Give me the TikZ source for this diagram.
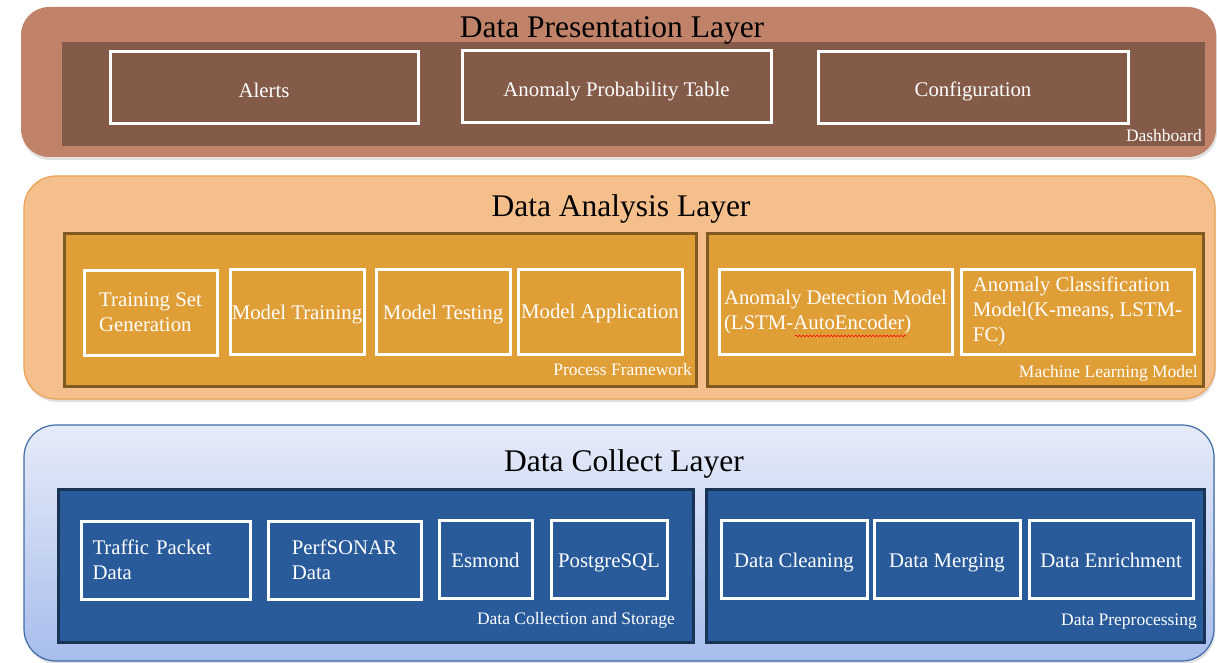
\documentclass[tikz,border=0pt]{standalone}
\usepackage{fontspec}
\setmainfont{Liberation Serif}
\usetikzlibrary{shadows,decorations.pathmorphing}
\definecolor{presOuter}{HTML}{C0836A}
\definecolor{presInner}{HTML}{845A48}
\definecolor{anaOuter}{HTML}{F5BF8C}
\definecolor{anaBorder}{HTML}{EBA257}
\definecolor{anaInner}{HTML}{E09E36}
\definecolor{anaInnerBorder}{HTML}{7F5A22}
\definecolor{colTop}{HTML}{E6EBF8}
\definecolor{colBot}{HTML}{A8BDEC}
\definecolor{colBorder}{HTML}{3F6BA8}
\definecolor{colInner}{HTML}{295B9B}
\definecolor{colInnerBorder}{HTML}{1A3456}
\begin{document}
\begin{tikzpicture}[x=1pt,y=-1pt,
  every node/.style={inner sep=0pt},
  layertitle/.style={font=\fontsize{31.5}{38}\selectfont, text=black, anchor=base},
  itembox/.style={draw=white, line width=3pt, text=white, font=\fontsize{20.8}{25}\selectfont, align=left},
  oneline/.style={text height=#1, text depth=0pt},
  tag/.style={font=\fontsize{17.5}{21}\selectfont, text=white, anchor=base east},
  layershadow/.style={drop shadow={opacity=0.2, shadow xshift=1pt, shadow yshift=-3pt, fill=black!60}}
]
\fill[white] (0,0) rectangle (1217,663);
\useasboundingbox (0,0) rectangle (1217,663);

% ---------- Data Presentation Layer ----------
\fill[presOuter, rounded corners=28pt, layershadow] (21,7) rectangle (1216,157);
\fill[presInner] (62,42) rectangle (1205,146);
\node[layertitle] (tPres) at (612,38) {Data Presentation Layer};
\node[itembox, oneline=20pt, minimum width=308, minimum height=72] (alerts) at (264,88) {Alerts};
\node[itembox, oneline=20pt, minimum width=309, minimum height=72] (apt) at (616.5,86.5) {Anomaly Probability Table};
\node[itembox, oneline=18pt, minimum width=310, minimum height=72] (config) at (973,87.5) {Configuration};
\node[tag] (dash) at (1202,142) {Dashboard};

% ---------- Data Analysis Layer ----------
\filldraw[fill=anaOuter, draw=anaBorder, line width=1.2pt, rounded corners=32pt, layershadow] (24,176) rectangle (1215,399);
\node[layertitle] (tAna) at (621,216) {Data Analysis Layer};
\filldraw[fill=anaInner, draw=anaInnerBorder, line width=3pt] (64,233) rectangle (696,386);
\filldraw[fill=anaInner, draw=anaInnerBorder, line width=3pt] (707,233) rectangle (1203,386);
\node[itembox, minimum width=133, minimum height=85] (tsg) at (150.5,312.5) {Training Set\\Generation};
\node[itembox, oneline=15pt, minimum width=134, minimum height=85] (mtrain) at (297,311.5) {Model Training};
\node[itembox, oneline=15pt, minimum width=134, minimum height=85] (mtest) at (443,311.5) {Model Testing};
\node[itembox, oneline=14pt, minimum width=164, minimum height=85] (mapp) at (600,311.5) {Model Application};
\node[tag] (pf) at (692,375) {Process Framework};
\node[itembox, minimum width=233, minimum height=85] (adm) at (835.5,311.5) {Anomaly Detection Model\\(LSTM-AutoEncoder)};
\node[itembox, minimum width=233, minimum height=85] (acm) at (1077.5,311.5) {Anomaly Classification\\Model(K-means, LSTM-\\FC)};
\node[tag] (mlm) at (1198,377) {Machine Learning Model};
\draw[red, line width=0.6pt, decorate, decoration={snake, amplitude=0.8pt, segment length=3.5pt}] (795,336) -- (906,336);

% ---------- Data Collect Layer ----------
\path[top color=colTop, bottom color=colBot, draw=colBorder, line width=1.2pt, rounded corners=32pt, layershadow] (24,425) rectangle (1214,661);
\node[layertitle] (tCol) at (624,471) {Data Collect Layer};
\filldraw[fill=colInner, draw=colInnerBorder, line width=3pt] (58,489) rectangle (693,642);
\filldraw[fill=colInner, draw=colInnerBorder, line width=3pt] (706,489) rectangle (1204,642);
\node[itembox, minimum width=169, minimum height=78, text width=146] (tpd) at (165.5,560) {Traffic Packet\\Data};
\node[itembox, minimum width=153, minimum height=78] (psd) at (344.5,560) {PerfSONAR\\Data};
\node[itembox, oneline=16pt, minimum width=93, minimum height=78] (esm) at (485.5,559) {Esmond};
\node[itembox, oneline=16pt, minimum width=116, minimum height=78] (pg) at (609,559) {PostgreSQL};
\node[tag] (dcs) at (675,624) {Data Collection and Storage};
\node[itembox, oneline=16pt, minimum width=146, minimum height=78] (dclean) at (794,559) {Data Cleaning};
\node[itembox, oneline=16pt, minimum width=146, minimum height=78] (dmerge) at (947,559) {Data Merging};
\node[itembox, oneline=16pt, minimum width=164, minimum height=78] (denrich) at (1111,559) {Data Enrichment};
\node[tag] (dpp) at (1197,625) {Data Preprocessing};
\end{tikzpicture}
\end{document}
